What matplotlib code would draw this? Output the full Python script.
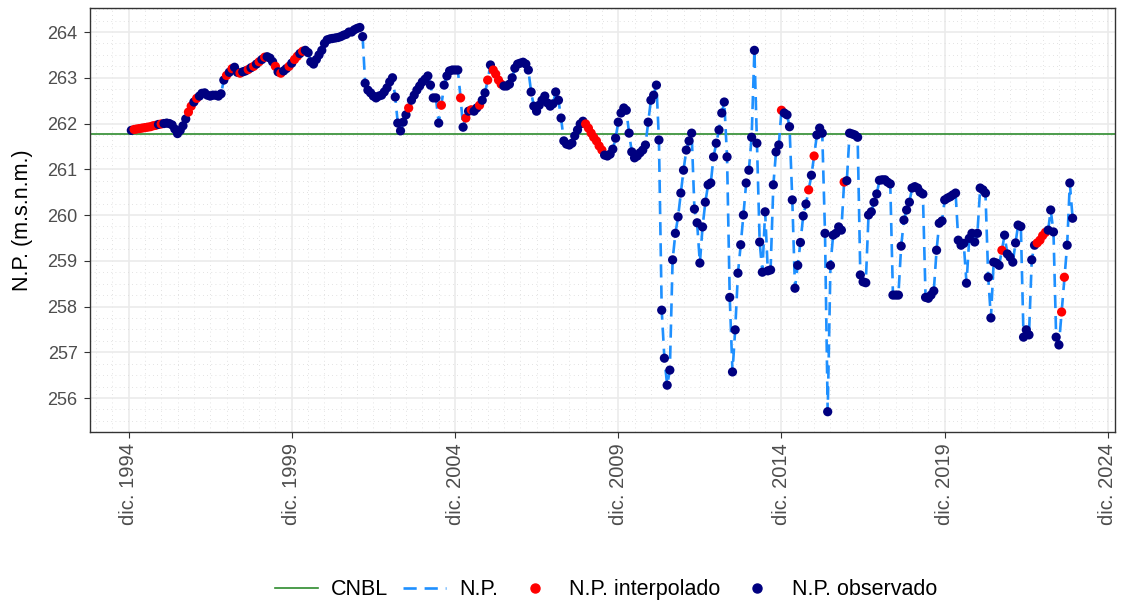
import matplotlib
matplotlib.use('Agg')
import matplotlib.pyplot as plt
import matplotlib.dates as mdates
from matplotlib.lines import Line2D
from matplotlib.ticker import MultipleLocator
import numpy as np
import pandas as pd

plt.rcParams['font.family'] = ['Liberation Sans', 'DejaVu Sans']

# Nivel piezométrico mensual (m.s.n.m.), desde ene. 1995
np_level = [
    # 1995
    261.85, 261.87, 261.88, 261.89, 261.90, 261.91, 261.92, 261.93, 261.95, 261.96, 261.98, 261.99,
    # 1996
    262.00, 262.01, 262.00, 261.97, 261.88, 261.78, 261.85, 261.95, 262.10, 262.25, 262.38, 262.47,
    # 1997
    262.55, 262.60, 262.66, 262.67, 262.62, 262.60, 262.62, 262.62, 262.60, 262.65, 262.95, 263.05,
    # 1998
    263.12, 263.20, 263.23, 263.12, 263.10, 263.13, 263.15, 263.18, 263.22, 263.25, 263.30, 263.35,
    # 1999
    263.40, 263.45, 263.46, 263.43, 263.35, 263.25, 263.13, 263.10, 263.15, 263.20, 263.25, 263.32,
    # 2000
    263.40, 263.47, 263.53, 263.58, 263.60, 263.55, 263.35, 263.30, 263.40, 263.50, 263.60, 263.75,
    # 2001
    263.83, 263.85, 263.86, 263.87, 263.88, 263.90, 263.93, 263.95, 264.00, 264.00, 264.05, 264.08,
    # 2002
    264.10, 263.90, 262.88, 262.73, 262.67, 262.60, 262.56, 262.60, 262.62, 262.69, 262.78, 262.91,
    # 2003
    263.00, 262.58, 262.01, 261.84, 262.03, 262.19, 262.34, 262.51, 262.62, 262.73, 262.82, 262.91,
    # 2004
    262.97, 263.04, 262.84, 262.56, 262.56, 262.01, 262.40, 262.84, 263.04, 263.15, 263.17, 263.17,
    # 2005
    263.17, 262.56, 261.92, 262.12, 262.27, 262.30, 262.27, 262.34, 262.40, 262.51, 262.67, 262.95,
    # 2006
    263.28, 263.17, 263.08, 262.95, 262.86, 262.82, 262.82, 262.86, 263.00, 263.21, 263.30, 263.32,
    # 2007
    263.34, 263.30, 263.17, 262.69, 262.38, 262.27, 262.40, 262.51, 262.60, 262.45, 262.38, 262.43,
    # 2008
    262.69, 262.51, 262.12, 261.62, 261.55, 261.53, 261.57, 261.73, 261.86, 261.99, 262.05, 261.99,
    # 2009
    261.90, 261.79, 261.70, 261.62, 261.51, 261.42, 261.31, 261.29, 261.33, 261.44, 261.68, 262.03,
    # 2010
    262.23, 262.34, 262.29, 261.79, 261.38, 261.25, 261.29, 261.36, 261.42, 261.53, 262.03, 262.51,
    # 2011
    262.62, 262.84, 261.64, 257.92, 256.87, 256.28, 256.61, 259.02, 259.60, 259.96, 260.48, 260.98,
    # 2012
    261.42, 261.62, 261.79, 260.13, 259.83, 258.95, 259.74, 260.28, 260.66, 260.70, 261.27, 261.57,
    # 2013
    261.86, 262.23, 262.47, 261.27, 258.20, 256.57, 257.49, 258.73, 259.35, 260.00, 260.70, 260.98,
    # 2014
    261.70, 263.60, 261.57, 259.41, 258.75, 260.07, 258.78, 258.80, 260.66, 261.38, 261.53, 262.29,
    # 2015
    262.23, 262.19, 261.93, 260.33, 258.40, 258.90, 259.40, 259.98, 260.24, 260.55, 260.87, 261.29,
    # 2016
    261.75, 261.90, 261.79, 259.60, 255.70, 258.90, 259.56, 259.60, 259.74, 259.67, 260.72, 260.75,
    # 2017
    261.79, 261.77, 261.75, 261.70, 258.69, 258.54, 258.52, 260.00, 260.07, 260.28, 260.46, 260.76,
    # 2018
    260.77, 260.77, 260.72, 260.68, 258.25, 258.25, 258.25, 259.32, 259.89, 260.11, 260.28, 260.59,
    # 2019
    260.62, 260.59, 260.50, 260.46, 258.20, 258.18, 258.25, 258.34, 259.23, 259.82, 259.87, 260.33,
    # 2020
    260.37, 260.40, 260.44, 260.48, 259.45, 259.34, 259.38, 258.51, 259.49, 259.60, 259.41, 259.60,
    # 2021
    260.59, 260.55, 260.48, 258.64, 257.75, 258.97, 258.95, 258.90, 259.23, 259.56, 259.15, 259.08,
    # 2022
    258.97, 259.39, 259.78, 259.75, 257.33, 257.49, 257.38, 259.02, 259.34, 259.39, 259.45, 259.55,
    # 2023
    259.62, 259.67, 260.11, 259.63, 257.33, 257.16, 257.88, 258.64, 259.34, 260.70, 259.93,
]

# Meses rellenados por interpolación (índice desde ene. 1995)
interpolated_idx = [
    1, 2, 3, 4, 5, 6, 7, 8, 9, 11, 21, 22, 24, 35, 37, 40, 43, 45, 47, 49,
    53, 55, 58, 60, 61, 63, 102, 114, 121, 123, 125, 128, 131, 133, 134,
    135, 136, 167, 168, 169, 170, 171, 172, 173, 239, 249, 251, 262, 320,
    333, 334, 335, 336, 342, 343,
]

cnbl = 261.77
tick_years = [1994, 1999, 2004, 2009, 2014, 2019, 2024]

dates = pd.date_range('1995-01-01', periods=len(np_level), freq='MS')
is_interp = np.zeros(len(np_level), dtype=bool)
is_interp[interpolated_idx] = True
point_colors = np.where(is_interp, 'red', 'navy')

fig = plt.figure(figsize=(11.21, 6.03), dpi=100)
ax = fig.add_axes([0.0803, 0.2836, 0.9144, 0.7031])

ax.axhline(cnbl, color='#2E8B2E', lw=1.2, zorder=2)
ax.plot(dates, np_level, color='#1E90FF', lw=1.9, ls=(0, (5, 3)), zorder=3)
ax.scatter(dates, np_level, c=point_colors, s=44, linewidths=0, zorder=4)

ax.set_xlim(pd.Timestamp('1993-09-26'), pd.Timestamp('2025-02-18'))
ax.set_ylim(255.257, 264.525)

ticks = [pd.Timestamp(f'{y}-12-01') for y in tick_years]
ax.set_xticks(ticks)
ax.set_xticklabels([f'dic. {y}' for y in tick_years], rotation=90)
ax.xaxis.set_minor_locator(mdates.MonthLocator(bymonth=[6, 12]))
ax.yaxis.set_major_locator(MultipleLocator(1))
ax.yaxis.set_minor_locator(MultipleLocator(0.25))

ax.grid(which='major', color='#EBEBEB', lw=1.2, zorder=0)
ax.grid(which='minor', color='#D9D9D9', lw=0.6, ls=(0, (1, 4)), zorder=0)
ax.set_axisbelow(True)

for s in ax.spines.values():
    s.set_color('#333333')
    s.set_linewidth(1.0)
ax.tick_params(which='major', length=4, color='#333333', labelcolor='#4D4D4D')
ax.tick_params(axis='y', which='major', labelsize=13, pad=5)
ax.tick_params(axis='x', which='major', labelsize=14.5, pad=4)
ax.tick_params(which='minor', length=0)

ax.set_ylabel('N.P. (m.s.n.m.)', fontsize=15.5, labelpad=10)

handles = [
    Line2D([], [], color='#2E8B2E', lw=1.2),
    Line2D([], [], color='#1E90FF', lw=1.9, ls=(0, (5, 3))),
    Line2D([], [], color='red', marker='o', ls='none', markersize=6.5),
    Line2D([], [], color='navy', marker='o', ls='none', markersize=6.5),
]
labels = ['CNBL', 'N.P.', 'N.P. interpolado', 'N.P. observado']
fig.legend(handles, labels, loc='center', bbox_to_anchor=(0.5406, 0.0216),
           ncol=4, frameon=False, fontsize=15.5, handlelength=2.0,
           columnspacing=0.7, handletextpad=0.6)

fig.savefig('out.png', dpi=100)
